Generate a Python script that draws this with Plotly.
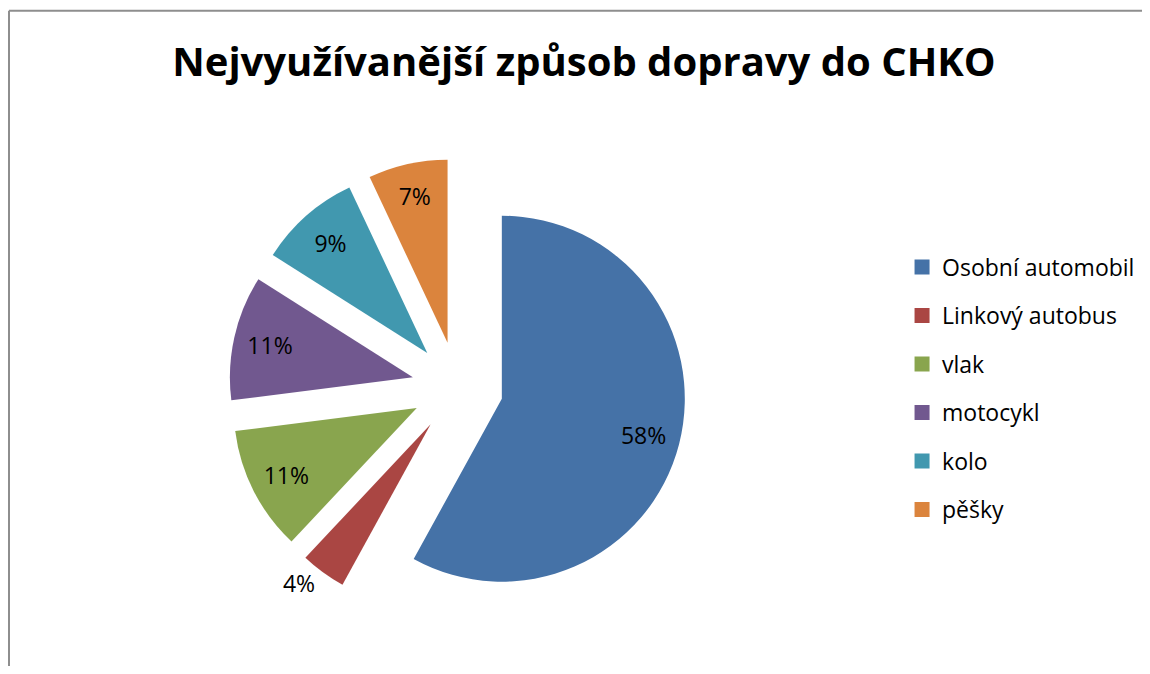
import plotly.graph_objects as go

# data
categories = ["Osobní automobil", "Linkový autobus", "vlak", "motocykl", "kolo", "pěšky"]
shares = [58, 4, 11, 11, 9, 7]
colors = ["#4572A7", "#AA4643", "#89A54E", "#71588F", "#4198AF", "#DB843D"]
text_pos = ["inside", "outside", "inside", "inside", "inside", "inside"]

FONT = "Open Sans"
W, H = 1134, 658  # leaves room for the 8px body margin, no scrollbars
PULL = 0.25
pie_domain = dict(x=[0.1947, 0.5981], y=[0.0759, 0.7712])

fig = go.Figure()

# the pie itself, every slice exploded by the same amount
fig.add_trace(go.Pie(
    labels=categories,
    values=shares,
    marker=dict(colors=colors, line=dict(width=0)),
    sort=False,
    direction="clockwise",
    rotation=0,
    pull=[PULL] * len(shares),
    textinfo="none",
    domain=pie_domain,
    showlegend=False,
    hoverinfo="label+percent",
))

# transparent ring on top, only used to put the % labels out near the rim
fig.add_trace(go.Pie(
    labels=categories,
    values=shares,
    marker=dict(colors=["rgba(0,0,0,0)"] * len(shares), line=dict(width=0)),
    hole=0.6,
    sort=False,
    direction="clockwise",
    rotation=0,
    pull=[PULL] * len(shares),
    textinfo="percent",
    texttemplate="%{percent:.0%}",
    textposition=text_pos,
    insidetextorientation="horizontal",
    textfont=dict(family=FONT, size=23, color="black"),
    domain=pie_domain,
    showlegend=False,
    hoverinfo="skip",
))

# legend entries (one per category so the spacing can be set)
for i, (name, col) in enumerate(zip(categories, colors)):
    fig.add_trace(go.Scatter(
        x=[None], y=[None], mode="markers", name=name,
        legendgroup=f"g{i}",
        marker=dict(symbol="square", size=15, color=col),
    ))

fig.update_layout(
    width=W, height=H,
    margin=dict(l=0, r=0, t=0, b=0, autoexpand=False),
    paper_bgcolor="white",
    plot_bgcolor="white",
    uniformtext=dict(minsize=23, mode="show"),
    title=dict(
        text="<b>Nejvyužívanější způsob dopravy do CHKO</b>",
        font=dict(family=FONT, size=40, color="black"),
        x=0.5079, xanchor="center", y=0.9179, yanchor="middle",
    ),
    xaxis=dict(visible=False),
    yaxis=dict(visible=False),
    legend=dict(
        x=0.7884, xanchor="left", y=0.4217, yanchor="middle",
        font=dict(family=FONT, size=23, color="black"),
        tracegroupgap=15.6,
        bgcolor="rgba(0,0,0,0)",
    ),
    # chart frame, only its left and top edges are in view
    shapes=[
        dict(type="line", xref="paper", yref="paper",
             x0=1 / W, x1=1 / W, y0=0, y1=1 - 2.8 / H,
             line=dict(color="#8e8e8e", width=2)),
        dict(type="line", xref="paper", yref="paper",
             x0=1 / W, x1=1, y0=1 - 2.8 / H, y1=1 - 2.8 / H,
             line=dict(color="#8e8e8e", width=2)),
    ],
)

fig.write_html("out.html")
